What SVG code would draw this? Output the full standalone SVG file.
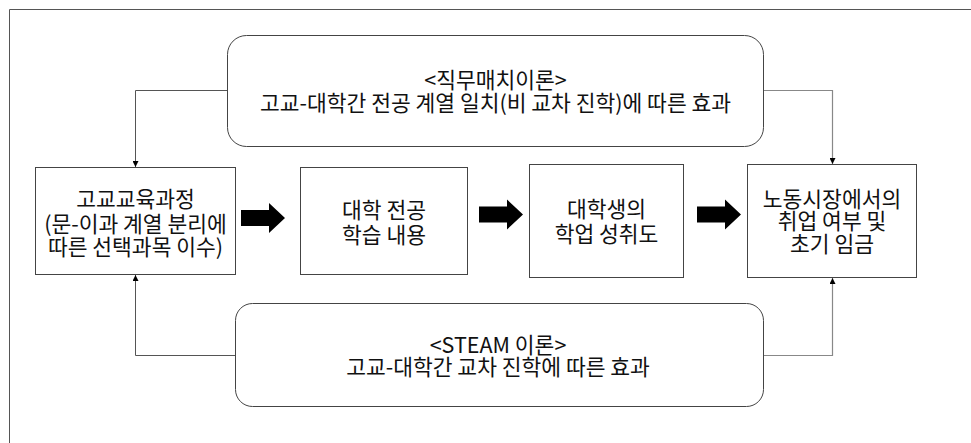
<svg xmlns="http://www.w3.org/2000/svg" width="971" height="443" viewBox="0 0 971 443">
<defs>
<style>
.frame{fill:none;stroke:#555;stroke-width:1}
.box{fill:#fff;stroke:#444;stroke-width:1}
.conn{fill:none;stroke:#555;stroke-width:1}
.conn2{fill:none;stroke:#888;stroke-width:1.2}
.big{fill:#000}
text{font-family:"Noto Sans CJK KR","Malgun Gothic","Noto Sans",sans-serif;font-size:21.5px;fill:#111;text-anchor:middle}
</style>
<marker id="ah" viewBox="0 0 6 6" refX="6" refY="3" markerWidth="6" markerHeight="6" markerUnits="userSpaceOnUse" orient="auto">
<path d="M0,0 L6,3 L0,6 Z" fill="#000"/>
</marker>
</defs>
<rect width="971" height="443" fill="#fff"/>
<path class="frame" d="M9.5,443 V9.5 H971"/>
<g id="connectors">
<path class="conn" d="M227.5,90.5 H135.5 V167" marker-end="url(#ah)"/>
<path class="conn2" d="M763.5,90.5 H832.5 V164" marker-end="url(#ah)"/>
<path class="conn" d="M235.5,355.5 H135.5 V275" marker-end="url(#ah)"/>
<path class="conn2" d="M763.5,355.5 H832.5 V278" marker-end="url(#ah)"/>
<path class="big" d="M241,210 H269 V203 L285,218 L269,233 V226 H241 Z"/>
<path class="big" d="M479,206.5 H507 V199.5 L523,214.5 L507,229.5 V222.5 H479 Z"/>
<path class="big" d="M697,206.5 H725 V199.5 L741,214.5 L725,229.5 V222.5 H697 Z"/>
</g>
<g id="top-theory">
<rect class="box" x="227.5" y="35.5" width="536" height="111" rx="19"/>
<text x="495.5" y="88">&lt;직무매치이론&gt;</text>
<text x="495.5" y="111">고교-대학간 전공 계열 일치(비 교차 진학)에 따른 효과</text>
</g>
<g id="bottom-theory">
<rect class="box" x="235.5" y="303.5" width="528" height="103" rx="17"/>
<text x="498" y="352.5">&lt;STEAM 이론&gt;</text>
<text x="498" y="374.5">고교-대학간 교차 진학에 따른 효과</text>
</g>
<g id="hs-curriculum">
<rect class="box" x="35.5" y="167.5" width="200" height="107"/>
<text x="135.5" y="207">고교교육과정</text>
<text x="135.5" y="231.5">(문-이과 계열 분리에</text>
<text x="135.5" y="254.5">따른 선택과목 이수)</text>
</g>
<g id="univ-major">
<rect class="box" x="300.5" y="167.5" width="167" height="107"/>
<text x="384" y="217.5">대학 전공</text>
<text x="384" y="242.5">학습 내용</text>
</g>
<g id="achievement">
<rect class="box" x="529.5" y="164.5" width="154" height="113"/>
<text x="606.5" y="217">대학생의</text>
<text x="606.5" y="241.5">학업 성취도</text>
</g>
<g id="labor-market">
<rect class="box" x="747.5" y="164.5" width="169" height="113"/>
<text x="832" y="207">노동시장에서의</text>
<text x="832" y="228.5">취업 여부 및</text>
<text x="832" y="252">초기 임금</text>
</g>
</svg>
